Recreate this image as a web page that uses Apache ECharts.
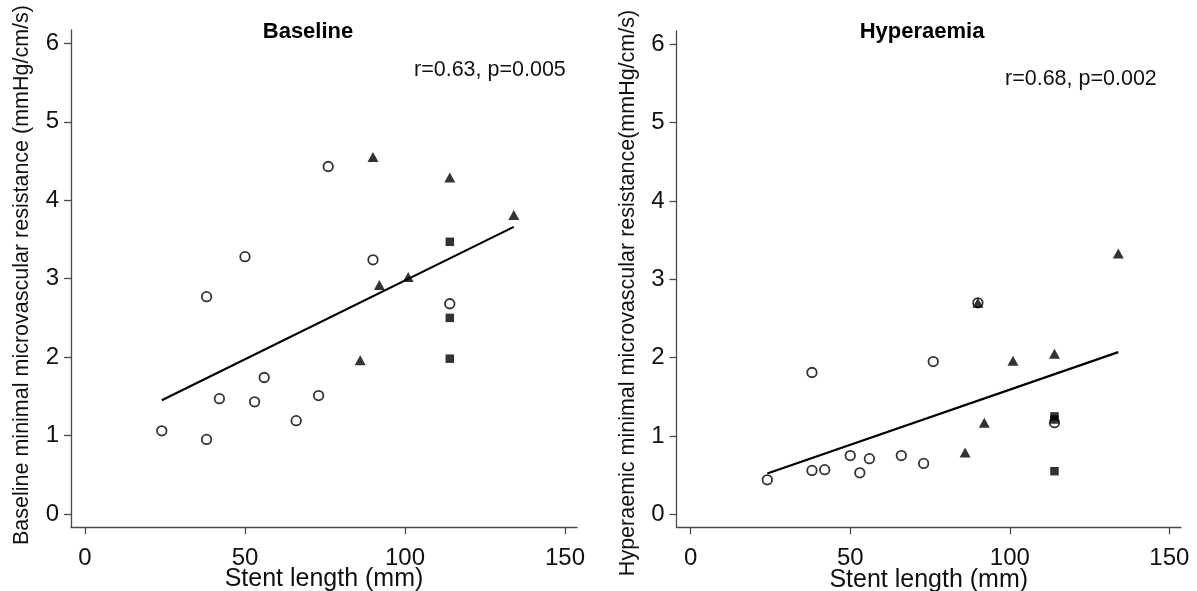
<!DOCTYPE html>
<html>
<head>
<meta charset="utf-8">
<script src="https://cdn.jsdelivr.net/npm/echarts@6/dist/echarts.min.js"></script>
<style>
html,body{margin:0;padding:0;background:#fff;}
#chart{width:1197px;height:591px;}
</style>
</head>
<body>
<div id="chart"></div>
<script>
// ---- data ----
const xTicks = [0, 50, 100, 150];
const yTicks = [0, 1, 2, 3, 4, 5, 6];

const baselineCircles = [[76,4.43],[50,3.28],[38,2.77],[56,1.74],[42,1.47],[53,1.43],[73,1.51],[66,1.19],[24,1.06],[38,0.95],[90,3.24],[114,2.68]];
const baselineTriangles = [[90,4.55],[114,4.29],[134,3.81],[92,2.92],[101,3.02],[86,1.96]];
const baselineSquares = [[114,3.47],[114,2.50],[114,1.98]];
const baselineFit = [[24,1.45],[134,3.66]];

const hyperCircles = [[24,0.44],[38,0.56],[38,1.81],[42,0.57],[50,0.75],[53,0.53],[56,0.71],[66,0.75],[73,0.65],[76,1.95],[90,2.70],[114,1.17]];
const hyperTriangles = [[86,0.79],[90,2.70],[92,1.17],[101,1.96],[114,2.05],[134,3.33]];
const hyperSquares = [[114,1.25],[114,1.21],[114,0.55]];
const hyperFit = [[24,0.52],[134,2.07]];

const titles = ['Baseline', 'Hyperaemia'];
const statTexts = ['r=0.63, p=0.005', 'r=0.68, p=0.002'];
const yTitles = ['Baseline minimal microvascular resistance (mmHg/cm/s)', 'Hyperaemic minimal microvascular resistance(mmHg/cm/s)'];
const xTitle = 'Stent length (mm)';

// ---- chart ----
const FONT = '"Liberation Sans", Arial, sans-serif';
const axisColor = '#4a4a4a';
const labelColor = '#111';

function xAxisCfg(gridIndex, min, max) {
  return {
    type: 'value', gridIndex, min, max,
    name: xTitle, nameLocation: 'middle', nameGap: 40, nameMoveOverlap: false,
    nameTextStyle: {fontFamily: FONT, fontSize: 25, color: labelColor},
    axisLine: {show: true, onZero: false, lineStyle: {color: axisColor, width: 1.3}},
    axisTick: {show: true, length: 7, customValues: xTicks, lineStyle: {color: axisColor, width: 1.3}},
    axisLabel: {customValues: xTicks, fontFamily: FONT, fontSize: 24, color: labelColor, margin: 19},
    splitLine: {show: false}
  };
}
function yAxisCfg(gridIndex, min, max) {
  return {
    type: 'value', gridIndex, min, max,
    axisLine: {show: true, onZero: false, lineStyle: {color: axisColor, width: 1.3}},
    axisTick: {show: true, length: 7, customValues: yTicks, lineStyle: {color: axisColor, width: 1.3}},
    axisLabel: {customValues: yTicks, fontFamily: FONT, fontSize: 24, color: labelColor, margin: 12},
    splitLine: {show: false}
  };
}
function circ(data, i) {
  return {type: 'scatter', xAxisIndex: i, yAxisIndex: i, data, symbol: 'circle', symbolSize: 9.5,
    itemStyle: {color: 'rgba(0,0,0,0)', borderColor: '#000', borderWidth: 1.8}, z: 3};
}
function tri(data, i) {
  return {type: 'scatter', xAxisIndex: i, yAxisIndex: i, data, symbol: 'triangle', symbolSize: [11, 10],
    itemStyle: {color: '#000'}, z: 4};
}
function sq(data, i) {
  return {type: 'scatter', xAxisIndex: i, yAxisIndex: i, data, symbol: 'rect', symbolSize: 8.5,
    itemStyle: {color: '#000'}, z: 4};
}
function fit(data, i) {
  return {type: 'line', xAxisIndex: i, yAxisIndex: i, data, symbol: 'none',
    lineStyle: {color: '#000', width: 2.2}, z: 2, animation: false};
}

const chart = echarts.init(document.getElementById('chart'), null, {renderer: 'canvas'});
chart.setOption({
  animation: false,
  backgroundColor: '#fff',
  grid: [
    {left: 71, top: 30, width: 506, height: 497, containLabel: false, outerBoundsMode: 'none'},
    {left: 676.5, top: 31, width: 504.5, height: 496.3, containLabel: false, outerBoundsMode: 'none'}
  ],
  xAxis: [xAxisCfg(0, -4.37, 153.75), xAxisCfg(1, -4.45, 153.65)],
  yAxis: [yAxisCfg(0, -0.166, 6.17), yAxisCfg(1, -0.166, 6.17)],
  series: [
    fit(baselineFit, 0), circ(baselineCircles, 0), tri(baselineTriangles, 0), sq(baselineSquares, 0),
    fit(hyperFit, 1), circ(hyperCircles, 1), tri(hyperTriangles, 1), sq(hyperSquares, 1)
  ],
  graphic: [
    {type: 'text', x: 308, y: 32, style: {text: titles[0], font: 'bold 22px ' + FONT, fill: '#000', align: 'center', verticalAlign: 'middle'}},
    {type: 'text', x: 922, y: 32, style: {text: titles[1], font: 'bold 22px ' + FONT, fill: '#000', align: 'center', verticalAlign: 'middle'}},
    {type: 'text', x: 414, y: 70, style: {text: statTexts[0], font: '21.5px ' + FONT, fill: labelColor, align: 'left', verticalAlign: 'middle'}},
    {type: 'text', x: 1005, y: 79, style: {text: statTexts[1], font: '21.5px ' + FONT, fill: labelColor, align: 'left', verticalAlign: 'middle'}},
    {type: 'text', x: 22, y: 275, rotation: Math.PI / 2, style: {text: yTitles[0], font: '21.5px ' + FONT, fill: labelColor, align: 'center', verticalAlign: 'middle'}},
    {type: 'text', x: 628, y: 293, rotation: Math.PI / 2, style: {text: yTitles[1], font: '21.5px ' + FONT, fill: labelColor, align: 'center', verticalAlign: 'middle'}}
  ]
});
</script>
</body>
</html>
